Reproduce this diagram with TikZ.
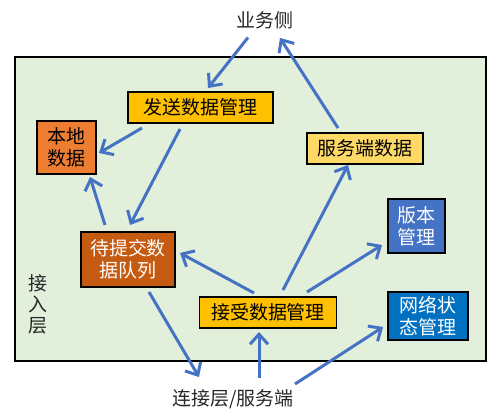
\documentclass[tikz,border=0pt]{standalone}
\usepackage{fontspec}
\setmainfont{Noto Sans CJK SC}
\usetikzlibrary{arrows.meta,calc}
\definecolor{layergreen}{RGB}{226,239,218}
\definecolor{sendyellow}{RGB}{255,192,0}
\definecolor{serveryellow}{RGB}{255,217,102}
\definecolor{localorange}{RGB}{237,125,49}
\definecolor{queueorange}{RGB}{197,90,17}
\definecolor{versionblue}{RGB}{68,114,196}
\definecolor{netblue}{RGB}{0,112,192}
\definecolor{flowblue}{RGB}{68,114,196}

\tikzset{
    box/.style={draw=black, line width=1.1pt, inner sep=0pt, align=center,
        font=\fontsize{10.8}{12.5}\selectfont},
    boxsize/.style 2 args={minimum width=#1*0.02cm, minimum height=#2*0.02cm},
    label/.style={inner sep=0pt, align=center, text=black!85,
        font=\fontsize{10.8}{12}\selectfont},
    flow/.style={draw=flowblue, line width=1.7pt,
        -{Straight Barb[length=2mm,width=3.6mm]}}
}

\begin{document}
\begin{tikzpicture}[x=0.02cm, y=-0.02cm]
    \useasboundingbox (0,0) rectangle (499,418);

    % Layer
    \draw[fill=layergreen, line width=1pt] (15,57) rectangle (486,361);
    \node[label] (layer) at (38,304) {接\\入\\层};

    % Outside
    \node[label] (title) at (265,20.5) {业务侧};
    \node[label] (bottom) at (233,399) {连接层/服务端};

    % Boxes
    \node[box, boxsize={145}{31}, fill=sendyellow] (send) at (200.5,107.5) {发送数据管理};
    \node[box, boxsize={59}{53}, fill=localorange] (local) at (66.5,147.5) {本地\\数据};
    \node[box, boxsize={116}{31}, fill=serveryellow] (server) at (365,148.5) {服务端数据};
    \node[box, boxsize={94}{55}, fill=queueorange, text=white] (queue) at (128,259.5) {待提交数\\据队列};
    \node[box, boxsize={57}{54}, fill=versionblue, text=white] (version) at (416.5,226) {版本\\管理};
    \node[box, boxsize={80}{48}, fill=netblue, text=white] (network) at (428,316) {网络状\\态管理};
    \node[box, boxsize={137}{31}, fill=sendyellow] (recv) at (268,312.5) {接受数据管理};

    % Flows
    \draw[flow] ($(title)+(-17,17)$) -- ($(send)+(7.5,-19.5)$);
    \draw[flow] ($(server)+(-27,-20.5)$) -- ($(title)+(15,17.5)$);
    \draw[flow] ($(send)+(-58.5,20.5)$) -- ($(local)+(32.5,5.5)$);
    \draw[flow] ($(send)+(-20.5,21.5)$) -- ($(queue)+(2,-34.5)$);
    \draw[flow] ($(queue)+(-23,-34.5)$) -- ($(local)+(23.5,29.5)$);
    \draw[flow] ($(recv)+(-14,-19.5)$) -- ($(queue)+(52,-6.5)$);
    \draw[flow] ($(recv)+(15,-22.5)$) -- ($(server)+(-17,16.5)$);
    \draw[flow] ($(recv)+(39,-20.5)$) -- ($(version)+(-34.5,19)$);
    \draw[flow] ($(queue)+(21,32.5)$) -- ($(bottom)+(-34,-22)$);
    \draw[flow] ($(bottom)+(26,-21)$) -- ($(recv)+(-9,19.5)$);
    \draw[flow] ($(bottom)+(62,-15)$) -- ($(network)+(-45,11)$);

\end{tikzpicture}
\end{document}
